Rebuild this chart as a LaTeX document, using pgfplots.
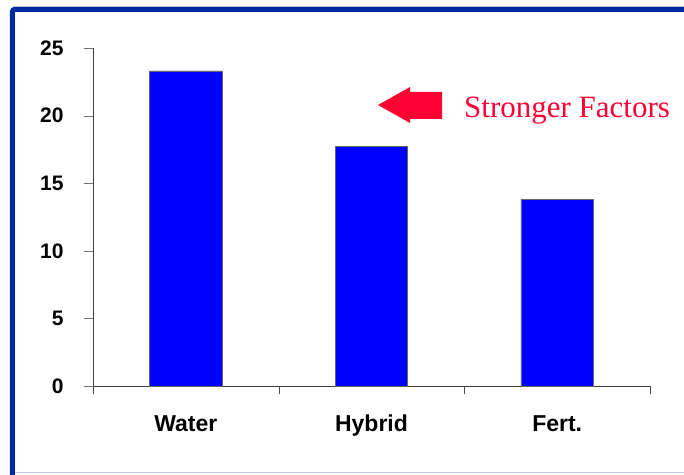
\documentclass[border=0pt]{standalone}
\usepackage{pgfplots}
\pgfplotsset{compat=1.18}
\usepackage{fontspec}
\setmainfont{Liberation Serif}
\newfontfamily\tickfont{Liberation Sans}
\definecolor{frameblue}{HTML}{0028A0}
\definecolor{arrowred}{HTML}{FF0033}
\definecolor{barblue}{HTML}{0000FF}

\begin{document}
\begin{tikzpicture}[x=1pt,y=1pt]
\useasboundingbox (-93,-88) rectangle (591,386);
\fill[white] (-93,-88) rectangle (591,386);
% frame of the slide
\draw[lightgray!60, line width=1pt] (-80,379.5) -- (591,379.5);
\draw[frameblue!25, line width=1.5pt] (-78,-86.5) -- (591,-86.5);
\draw[frameblue, line width=5pt, rounded corners=2pt] (-80.5,-90) -- (-80.5,376.5) -- (595,376.5);

\begin{axis}[
    at={(0,0)}, anchor=south west,
    scale only axis,
    width=557pt, height=338pt,
    xmin=-0.5, xmax=2.5,
    ymin=0, ymax=25,
    axis x line=bottom, axis y line=left,
    axis line style={-, black!75},
    xtick={0,1,2},
    xticklabels={Water,Hybrid,Fert.},
    major x tick style={draw=none},
    minor xtick={-0.5,0.5,1.5,2.5},
    minor tick length=8pt,
    minor x tick style={black!70},
    ytick={0,5,...,25},
    major tick length=9pt,
    y tick style={black!55},
    tick align=outside,
    /pgf/number format/assume math mode=true,
    yticklabel style={font=\tickfont\bfseries\fontsize{21}{21}\selectfont, xshift=-17pt},
    xticklabel style={font=\tickfont\bfseries\fontsize{23}{23}\selectfont,
        text height=17pt, text depth=5pt, yshift=-16pt},
    ybar, bar width=0.39,
    clip=false,
]
\addplot[fill=barblue, draw=black!60, line width=0.8pt] coordinates {(0,23.3) (1,17.7) (2,13.8)};
\end{axis}

% annotation arrow and label
\fill[arrowred] (285,281) -- (317,299) -- (317,294) -- (349,294) -- (349,267) -- (317,267) -- (317,263) -- cycle;
\node[anchor=base west, inner sep=0pt, text=arrowred, font=\fontsize{31}{31}\selectfont] at (371,268) {Stronger Factors};
\end{tikzpicture}
\end{document}
